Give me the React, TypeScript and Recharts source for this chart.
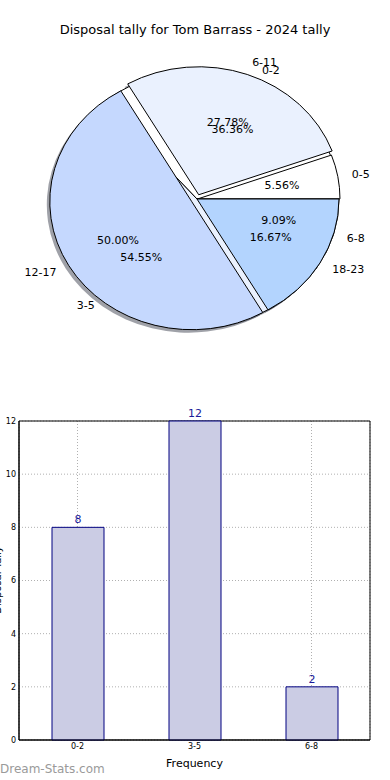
import React from "react";
import {
  PieChart,
  Pie,
  BarChart,
  Bar,
  XAxis,
  YAxis,
  CartesianGrid,
  LabelList,
  ReferenceArea,
  Label,
} from "recharts";

// disposals by time band (top pie, drawn above)
const hourBands = ["0-5", "6-11", "12-17", "18-23"];
const hourTally = [1, 5, 9, 3];

// disposal tally frequency (lower pie + bar chart)
const disposalBands = ["0-2", "3-5", "6-8"];
const disposalCounts = [8, 12, 2];

const yTicks = [0, 2, 4, 6, 8, 10, 12];

const wedgeColors = ["#ffffff", "#eaf1fe", "#c5d8fe", "#b3d4fe"];
const hourExplode = [1, 5, 6, 0];
const bandExplode = [0, 0, 0];

const hourData = hourBands.map((name, i) => ({ name, value: hourTally[i] }));
const bandData = disposalBands.map((name, i) => ({ name, value: disposalCounts[i] }));

const FONT = "DejaVu Sans, sans-serif";
const KY = 128 / 142;
const RAD = Math.PI / 180;

const wedgeOrigin = (cx: number, cy: number, mid: number, off: number) => [
  cx + off * Math.cos(mid * RAD),
  cy - off * KY * Math.sin(mid * RAD),
];

const wedgePath = (cx: number, cy: number, r: number, s: number, e: number, off: number) => {
  const [ox, oy] = wedgeOrigin(cx, cy, (s + e) / 2, off);
  const pt = (a: number) => [ox + r * Math.cos(a * RAD), oy - r * KY * Math.sin(a * RAD)];
  const [x1, y1] = pt(s);
  const [x2, y2] = pt(e);
  const large = Math.abs(e - s) > 180 ? 1 : 0;
  return `M${ox},${oy} L${x1},${y1} A${r},${r * KY} 0 ${large} 0 ${x2},${y2} Z`;
};

const makeWedge = (names: string[], explode: number[], colors: string[]) => (props: any) => {
  const i = names.indexOf(props.name ?? props.payload?.name);
  return (
    <path
      d={wedgePath(props.cx, props.cy, props.outerRadius, props.startAngle, props.endAngle, explode[i] || 0)}
      fill={colors[i]}
      stroke="#000"
      strokeWidth={1}
    />
  );
};

const makeShadow = (names: string[], explode: number[]) => (props: any) => {
  const i = names.indexOf(props.name ?? props.payload?.name);
  return (
    <path
      d={wedgePath(props.cx - 3, props.cy + 3, props.outerRadius, props.startAngle, props.endAngle, explode[i] || 0)}
      fill="#3f4452"
      fillOpacity={0.5}
      stroke="none"
    />
  );
};

const makeLabel = (names: string[], explode: number[]) => (props: any) => {
  const i = names.indexOf(props.name);
  const { cx, cy, outerRadius: r, midAngle, percent } = props;
  const [ox, oy] = wedgeOrigin(cx, cy, midAngle, explode[i] || 0);
  const c = Math.cos(midAngle * RAD);
  const s = Math.sin(midAngle * RAD);
  return (
    <g fontFamily={FONT} fontSize={11} fill="#000">
      <text
        x={ox + 1.1 * r * c}
        y={oy - 1.1 * r * KY * s}
        textAnchor={c > 0 ? "start" : "end"}
        dominantBaseline="central"
      >
        {props.name}
      </text>
      <text x={ox + 0.6 * r * c} y={oy - 0.6 * r * KY * s} textAnchor="middle" dominantBaseline="central">
        {(percent * 100).toFixed(2)}%
      </text>
    </g>
  );
};

const pieCommon = {
  dataKey: "value",
  nameKey: "name",
  cx: 197,
  cy: 199,
  outerRadius: 142,
  startAngle: 0,
  endAngle: 360,
  isAnimationActive: false,
  labelLine: false,
  stroke: "none",
};

const App = () => (
  <div
    style={{
      position: "absolute",
      left: 0,
      top: 0,
      width: 390,
      height: 780,
      background: "#fff",
      fontFamily: FONT,
      overflow: "hidden",
    }}
  >
    <div style={{ position: "absolute", top: 22, width: 390, textAlign: "center", fontSize: 13, color: "#000" }}>
      Disposal tally for Tom Barrass - 2024 tally
    </div>

    <div style={{ position: "absolute", left: 0, top: 0 }}>
      <PieChart width={390} height={370} margin={{ top: 0, right: 0, bottom: 0, left: 0 }}>
        <Pie {...pieCommon} data={bandData} shape={makeShadow(disposalBands, bandExplode)} />
        <Pie {...pieCommon} data={hourData} shape={makeShadow(hourBands, hourExplode)} />
        <Pie {...pieCommon} data={bandData} shape={makeWedge(disposalBands, bandExplode, wedgeColors)} />
        <Pie
          {...pieCommon}
          data={hourData}
          shape={makeWedge(hourBands, hourExplode, wedgeColors)}
          label={makeLabel(hourBands, hourExplode)}
        />
        <Pie
          {...pieCommon}
          data={bandData}
          shape={() => <g />}
          label={makeLabel(disposalBands, bandExplode)}
        />
      </PieChart>
    </div>

    <div style={{ position: "absolute", left: 0, top: 400 }}>
      <BarChart width={390} height={380} data={bandData} margin={{ top: 21, right: 20, bottom: 0, left: 0 }}>
        <CartesianGrid stroke="#b0b0b0" strokeDasharray="1 2" />
        <XAxis
          dataKey="name"
          height={40}
          tickSize={0}
          tickMargin={3}
          axisLine={{ stroke: "#000" }}
          tick={{ fontSize: 8, fill: "#000", fontFamily: FONT }}
        >
          <Label value="Frequency" position="insideBottom" offset={13} fontSize={11} fill="#000" fontFamily={FONT} />
        </XAxis>
        <YAxis
          domain={[0, 12]}
          ticks={yTicks}
          width={19}
          tickSize={0}
          tickMargin={3}
          axisLine={{ stroke: "#000" }}
          tick={{ fontSize: 8, fill: "#000", fontFamily: FONT }}
        />
        <ReferenceArea y1={0} y2={12} fill="none" fillOpacity={0} stroke="#000" strokeOpacity={1} />
        <Bar dataKey="value" barSize={52} fill="#cbcce4" stroke="#000080" strokeWidth={1} isAnimationActive={false}>
          <LabelList dataKey="value" position="top" offset={4} fill="#1a1a99" fontSize={11} fontFamily={FONT} />
        </Bar>
      </BarChart>
    </div>

    <div
      style={{
        position: "absolute",
        left: -42,
        top: 580,
        width: 80,
        textAlign: "center",
        fontSize: 10,
        color: "#000",
        transform: "rotate(-90deg)",
        transformOrigin: "center",
        lineHeight: "12px",
        marginTop: -6,
      }}
    >
      Disposal Tally
    </div>

    <div style={{ position: "absolute", left: 0, top: 762, fontSize: 12, color: "#9a9a9a" }}>Dream-Stats.com</div>
  </div>
);

export default App;
